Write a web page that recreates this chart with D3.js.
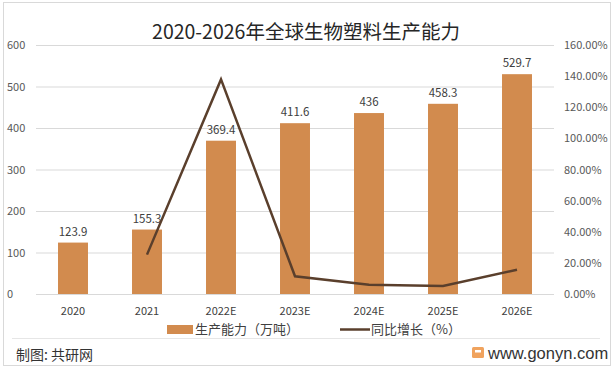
<!DOCTYPE html>
<html>
<head>
<meta charset="utf-8">
<script src="https://cdn.jsdelivr.net/npm/d3@7/dist/d3.min.js"></script>
<style>
  body { margin: 0; background: #fff; }
  svg { display: block; font-family: "Noto Sans CJK SC", "Noto Sans", sans-serif; }
</style>
</head>
<body>
<div id="chart"></div>
<script>
const years = ['2020', '2021', '2022E', '2023E', '2024E', '2025E', '2026E'];
const capacity = [123.9, 155.3, 369.4, 411.6, 436, 458.3, 529.7];
// growth in %, first year has no value
const growth = [null, 25.3, 137.9, 11.4, 5.9, 5.1, 15.6];
const leftTicks = [0, 100, 200, 300, 400, 500, 600];
const rightTicks = [0, 20, 40, 60, 80, 100, 120, 140, 160];

const width = 613, height = 370;
const barColor = '#d28b4e';
const lineColor = '#5a3f2c';

const svg = d3.select('#chart').append('svg')
    .attr('width', width)
    .attr('height', height);

// outer frame
svg.append('rect')
    .attr('x', 3.5).attr('y', 2.5)
    .attr('width', 607).attr('height', 363)
    .attr('fill', 'none')
    .attr('stroke', '#d9d9d9');

const x = d3.scaleBand()
    .domain(years)
    .range([36, 554])
    .paddingInner(0.595)
    .paddingOuter(0.2975);

const y = d3.scaleLinear().domain([0, 600]).range([294, 45]);
const y2 = d3.scaleLinear().domain([0, 160]).range([294, 45]);

// gridlines
svg.append('g')
    .selectAll('line')
    .data(leftTicks)
    .join('line')
    .attr('x1', 36).attr('x2', 554)
    .attr('y1', d => y(d) + 0.5).attr('y2', d => y(d) + 0.5)
    .attr('stroke', '#d9d9d9');

// left axis labels
svg.append('g')
    .selectAll('text')
    .data(leftTicks)
    .join('text')
    .attr('x', 7)
    .attr('y', d => y(d) + 4)
    .style('font-size', '11px')
    .style('fill', '#595959')
    .text(d => d);

// right axis labels
svg.append('g')
    .selectAll('text')
    .data(rightTicks)
    .join('text')
    .attr('x', 564)
    .attr('y', d => y2(d) + 4)
    .style('font-size', '11px')
    .style('fill', '#595959')
    .text(d => d3.format('.2f')(d) + '%');

// bars
svg.append('g')
    .selectAll('rect')
    .data(capacity)
    .join('rect')
    .attr('x', (d, i) => x(years[i]))
    .attr('y', d => y(d))
    .attr('width', x.bandwidth())
    .attr('height', d => y(0) - y(d))
    .attr('fill', barColor);

// bar labels
svg.append('g')
    .selectAll('text')
    .data(capacity)
    .join('text')
    .attr('x', (d, i) => x(years[i]) + x.bandwidth() / 2)
    .attr('y', d => y(d) - 7)
    .attr('text-anchor', 'middle')
    .style('font-size', '11.5px')
    .style('fill', '#404040')
    .text(d => d);

// growth line
const line = d3.line()
    .defined(d => d[1] != null)
    .x(d => x(d[0]) + x.bandwidth() / 2)
    .y(d => y2(d[1]));

svg.append('path')
    .datum(years.map((yr, i) => [yr, growth[i]]))
    .attr('d', line)
    .attr('fill', 'none')
    .attr('stroke', lineColor)
    .attr('stroke-width', 2.5)
    .attr('stroke-linejoin', 'miter');

// x labels
svg.append('g')
    .selectAll('text')
    .data(years)
    .join('text')
    .attr('x', d => x(d) + x.bandwidth() / 2)
    .attr('y', 315)
    .attr('text-anchor', 'middle')
    .style('font-size', '11px')
    .style('fill', '#404040')
    .text(d => d);

// title
svg.append('text')
    .attr('x', 306)
    .attr('y', 39)
    .attr('text-anchor', 'middle')
    .style('font-size', '19.5px')
    .style('fill', '#262626')
    .text('2020-2026年全球生物塑料生产能力');

// legend
const legend = svg.append('g');
legend.append('rect')
    .attr('x', 167).attr('y', 325)
    .attr('width', 26).attr('height', 9)
    .attr('fill', barColor);
legend.append('text')
    .attr('x', 195).attr('y', 334)
    .style('font-size', '13px')
    .style('fill', '#404040')
    .text('生产能力（万吨）');
legend.append('line')
    .attr('x1', 340).attr('x2', 370)
    .attr('y1', 329.5).attr('y2', 329.5)
    .attr('stroke', lineColor)
    .attr('stroke-width', 2.5);
legend.append('text')
    .attr('x', 371).attr('y', 334)
    .style('font-size', '13px')
    .style('fill', '#404040')
    .text('同比增长（%）');

// footer separator
svg.append('line')
    .attr('x1', 12).attr('x2', 600)
    .attr('y1', 338.5).attr('y2', 338.5)
    .attr('stroke', '#e6e6e6');

svg.append('text')
    .attr('x', 16).attr('y', 360)
    .style('font-size', '14px')
    .style('fill', '#333')
    .text('制图: 共研网');

// small logo mark
const logo = svg.append('g').attr('transform', 'translate(472,347)');
logo.append('rect')
    .attr('width', 12).attr('height', 11)
    .attr('rx', 1.5)
    .attr('fill', '#f0a35e');
logo.append('rect')
    .attr('x', 3).attr('y', 3)
    .attr('width', 6).attr('height', 2.5)
    .attr('fill', '#fff');

svg.append('text')
    .attr('x', 488).attr('y', 359)
    .style('font-family', '"Liberation Sans", Arial, sans-serif')
    .style('font-size', '16.5px')
    .style('fill', '#333')
    .text('www.gonyn.com');
</script>
</body>
</html>
